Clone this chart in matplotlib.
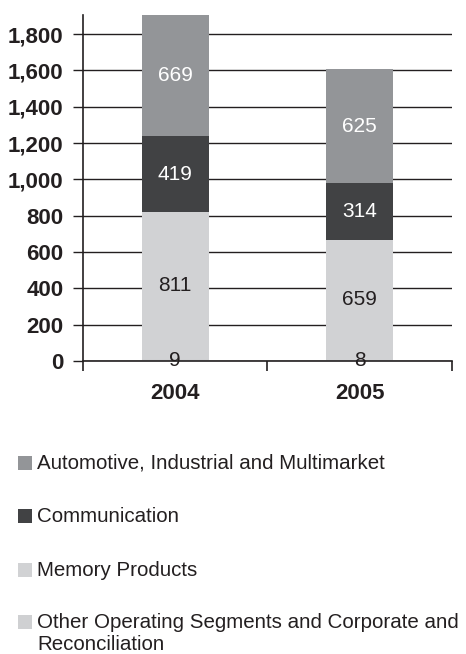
import matplotlib
matplotlib.use("Agg")
import matplotlib.pyplot as plt
from matplotlib.patches import Rectangle

plt.rcParams['font.family'] = ['Liberation Sans', 'DejaVu Sans']

years = ['2004', '2005']
segments = ['Other Operating Segments and Corporate and\nReconciliation',
            'Memory Products',
            'Communication',
            'Automotive, Industrial and Multimarket']
other = [9, 8]
memory = [811, 659]
communication = [419, 314]
automotive = [669, 625]
yticks = [0, 200, 400, 600, 800, 1000, 1200, 1400, 1600, 1800]

series = [other, memory, communication, automotive]
colors = ['#cfd0d2', '#d1d2d4', '#414244', '#939598']
label_colors = ['#231f20', '#231f20', 'white', 'white']

fig = plt.figure(figsize=(4.66, 6.54), dpi=100)
ax = fig.add_axes([0.178, 0.448, 0.792, 0.529])

x = [0.5, 1.5]
bottoms = [0, 0]
for vals, col, lc in zip(series, colors, label_colors):
    ax.bar(x, vals, width=0.363, bottom=bottoms, color=col, zorder=2)
    for xi, v, b in zip(x, vals, bottoms):
        ax.text(xi, b + v / 2, str(v), ha='center', va='center',
                fontsize=15, color=lc, zorder=3)
    bottoms = [b + v for b, v in zip(bottoms, vals)]

ax.set_xlim(0, 2)
ax.set_ylim(0, 1905)
ax.set_yticks(yticks)
ax.set_yticklabels([f'{t:,}' for t in yticks], fontsize=16, fontweight='bold',
                   color='#231f20')
ax.yaxis.grid(True, color='#231f20', linewidth=1.0, zorder=1)
ax.set_axisbelow(True)

ax.set_xticks([0, 1, 2])
ax.set_xticklabels([])
ax.set_xticks(x, minor=True)
ax.set_xticklabels(years, minor=True, fontsize=16, fontweight='bold',
                   color='#231f20')
ax.tick_params(axis='x', which='minor', length=0, pad=16)
ax.tick_params(axis='x', which='major', length=7, direction='out',
               color='#231f20', width=1.2)
ax.tick_params(axis='y', length=7, width=1.0, color='#231f20', pad=7)

for s in ['top', 'right']:
    ax.spines[s].set_visible(False)
for s in ['left', 'bottom']:
    ax.spines[s].set_color('#231f20')
    ax.spines[s].set_linewidth(1.2)

# legend drawn by hand, reversed stack order
W, H = 466, 654
rows_y = [463, 516, 570, 622]
for yy, lab, col in zip(rows_y, segments[::-1], colors[::-1]):
    fig.patches.append(Rectangle((18 / W, 1 - (yy + 7) / H), 14 / W, 14 / H,
                                 transform=fig.transFigure, facecolor=col,
                                 edgecolor='none'))
    lines = lab.split('\n')
    for i, ln in enumerate(lines):
        fig.text(37 / W, 1 - (yy + i * 22) / H, ln, ha='left', va='center',
                 fontsize=14.8, color='#231f20')

fig.savefig('out.png', dpi=100)
